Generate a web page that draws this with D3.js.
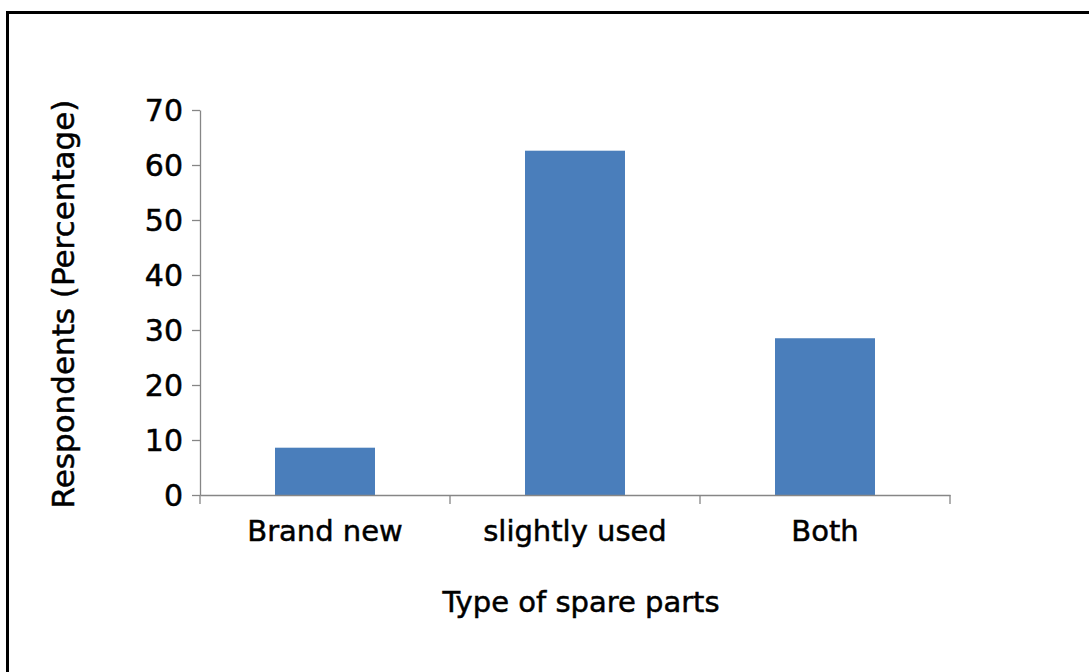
<!DOCTYPE html>
<html>
<head>
<meta charset="utf-8">
<script src="https://cdn.jsdelivr.net/npm/d3@7"></script>
<style>
  html, body { margin: 0; padding: 0; background: #fff; }
  svg { display: block; }
  text { font-family: "DejaVu Sans", sans-serif; fill: #000; stroke: #000; stroke-width: 0.5px; }
</style>
</head>
<body>
<script>
// Share of respondents by type of spare parts purchased
const categories = ["Brand new", "slightly used", "Both"];
const percentages = [8.6, 62.6, 28.5];
const yTicks = [0, 10, 20, 30, 40, 50, 60, 70];
const xTitle = "Type of spare parts";
const yTitle = "Respondents (Percentage)";

const W = 1089, H = 672;
const plot = { left: 200, right: 950, top: 110, bottom: 495 };

const svg = d3.select("body").append("svg")
  .attr("width", W).attr("height", H);

// outer frame
svg.append("rect")
  .attr("x", 7.5).attr("y", 12.5)
  .attr("width", W + 20).attr("height", H + 20)
  .attr("fill", "none").attr("stroke", "#000").attr("stroke-width", 3);

const x = d3.scaleBand()
  .domain(categories)
  .range([plot.left, plot.right])
  .paddingInner(0.6)
  .paddingOuter(0.3);

const y = d3.scaleLinear()
  .domain([0, 70])
  .range([plot.bottom, plot.top]);

// bars
svg.append("g").selectAll("rect")
  .data(categories)
  .join("rect")
  .attr("x", d => x(d))
  .attr("width", x.bandwidth())
  .attr("y", (d, i) => y(percentages[i]))
  .attr("height", (d, i) => y(0) - y(percentages[i]))
  .attr("fill", "#4a7ebb");

// y axis
const yAxis = svg.append("g")
  .attr("transform", `translate(${plot.left},0)`)
  .call(d3.axisLeft(y).tickValues(yTicks).tickSize(8).tickSizeOuter(0).tickPadding(9));
yAxis.selectAll("path, line").attr("stroke", "#868686").attr("stroke-width", 1.3);
yAxis.selectAll("text").attr("font-size", 30).attr("font-family", "DejaVu Sans").attr("dy", "0.36em");

// x axis: labels centred under bars, tick marks between categories
const xAxis = svg.append("g")
  .attr("transform", `translate(0,${plot.bottom})`)
  .call(d3.axisBottom(x).tickSize(0).tickSizeOuter(0).tickPadding(25));
xAxis.select("path").attr("stroke", "#868686").attr("stroke-width", 1.3);
xAxis.selectAll("text").attr("font-size", 29).attr("font-family", "DejaVu Sans");

const bounds = d3.range(categories.length + 1).map(i => plot.left + i * (plot.right - plot.left) / categories.length);
xAxis.selectAll("line.sep")
  .data(bounds)
  .join("line")
  .attr("class", "sep")
  .attr("x1", d => d).attr("x2", d => d)
  .attr("y1", 0).attr("y2", 9)
  .attr("stroke", "#868686").attr("stroke-width", 1.3);

// axis titles
svg.append("text")
  .attr("x", 581).attr("y", 612)
  .attr("text-anchor", "middle")
  .attr("font-size", 29)
  .text(xTitle);

svg.append("text")
  .attr("transform", "translate(74,304) rotate(-90)")
  .attr("text-anchor", "middle")
  .attr("font-size", 31)
  .text(yTitle);
</script>
</body>
</html>
